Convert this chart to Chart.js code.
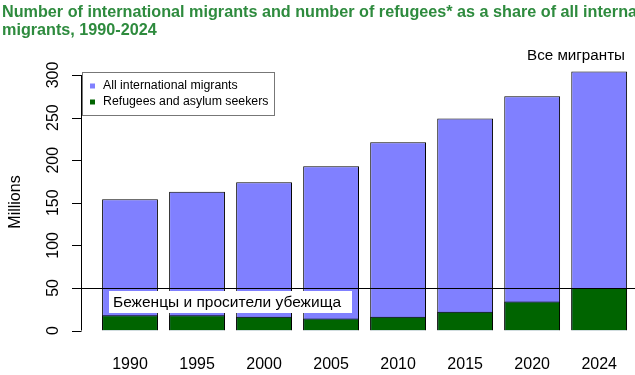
<!DOCTYPE html>
<html>
<head>
<meta charset="utf-8">
<script src="https://cdn.jsdelivr.net/npm/chart.js@4.4.0/dist/chart.umd.min.js"></script>
<style>
  html, body { margin: 0; padding: 0; background: #fff; }
  #wrap { width: 635px; height: 375px; position: relative; }
</style>
</head>
<body>
<div id="wrap"><canvas id="chart" width="635" height="375"></canvas></div>
<script>
const years = ['1990', '1995', '2000', '2005', '2010', '2015', '2020', '2024']
const allMigrants = [154, 163, 174, 193, 221, 249, 275, 304]
const refugees = [18, 18, 16, 14, 16, 22, 34, 50]
const yTicks = [0, 50, 100, 150, 200, 250, 300]

const titleLines = [
  'Number of international migrants and number of refugees* as a share of all international',
  'migrants, 1990-2024'
]
const legendLabels = ['All international migrants', 'Refugees and asylum seekers']
const allLabel = 'Все мигранты'
const refLabel = 'Беженцы и просители убежища'
const refLine = 50

const sans = '"Liberation Sans", Arial, sans-serif'

// axis, titles, legend and the annotations, drawn on top of the bars
const decor = {
  id: 'decor',
  afterDraw(chart) {
    const ctx = chart.ctx
    const y = chart.scales.y
    const axisX = 81.5

    ctx.save()
    // title
    ctx.fillStyle = 'rgb(46,139,62)'
    ctx.font = 'bold 16.2px ' + sans
    ctx.textAlign = 'left'
    ctx.textBaseline = 'alphabetic'
    ctx.fillText(titleLines[0], 2, 17)
    ctx.fillText(titleLines[1], 2, 34.5)

    // y axis
    ctx.strokeStyle = '#000'
    ctx.lineWidth = 1
    ctx.beginPath()
    ctx.moveTo(axisX, y.getPixelForValue(yTicks[0]))
    ctx.lineTo(axisX, y.getPixelForValue(yTicks[yTicks.length - 1]))
    yTicks.forEach(v => {
      const py = Math.round(y.getPixelForValue(v)) + 0.5
      ctx.moveTo(axisX, py)
      ctx.lineTo(72, py)
    })
    ctx.stroke()

    ctx.fillStyle = '#000'
    ctx.font = '16px ' + sans
    ctx.textAlign = 'center'
    ctx.textBaseline = 'middle'
    yTicks.forEach(v => {
      ctx.save()
      ctx.translate(54, y.getPixelForValue(v))
      ctx.rotate(-Math.PI / 2)
      ctx.fillText(String(v), 0, 0)
      ctx.restore()
    })
    ctx.save()
    ctx.translate(16, 202)
    ctx.rotate(-Math.PI / 2)
    ctx.fillText('Millions', 0, 0)
    ctx.restore()

    // refugee line
    const ly = Math.round(y.getPixelForValue(refLine)) + 0.5
    ctx.beginPath()
    ctx.moveTo(axisX, ly)
    ctx.lineTo(635, ly)
    ctx.stroke()

    // label boxes
    ctx.fillStyle = '#fff'
    ctx.fillRect(109, 291, 243, 22)
    ctx.fillStyle = '#000'
    ctx.font = '15.5px ' + sans
    ctx.textAlign = 'left'
    ctx.textBaseline = 'alphabetic'
    ctx.fillText(refLabel, 113, 307)
    ctx.font = '15.2px ' + sans
    ctx.fillText(allLabel, 527, 60)

    // legend
    ctx.fillStyle = '#fff'
    ctx.fillRect(82.5, 72.5, 192, 43)
    ctx.strokeStyle = '#777'
    ctx.strokeRect(82.5, 72.5, 192, 43)
    const ds = chart.data.datasets
    ctx.font = '12.3px ' + sans
    ctx.textBaseline = 'middle'
    legendLabels.forEach((label, i) => {
      const cy = 86 + i * 16
      ctx.fillStyle = ds[i].backgroundColor
      ctx.fillRect(90, cy - 2.5, 5, 5)
      ctx.fillStyle = '#000'
      ctx.fillText(label, 103, cy)
    })
    ctx.restore()
  }
}

new Chart(document.getElementById('chart'), {
  type: 'bar',
  data: {
    labels: years,
    datasets: [
      {
        label: legendLabels[0],
        data: allMigrants,
        backgroundColor: '#8080ff',
        borderColor: '#000',
        borderWidth: 1,
        order: 1
      },
      {
        label: legendLabels[1],
        data: refugees,
        backgroundColor: '#006400',
        borderColor: '#000',
        borderWidth: 1,
        order: 0
      }
    ]
  },
  options: {
    responsive: false,
    animation: false,
    layout: { padding: { top: 64.8, right: 2.3, bottom: 0, left: 0 } },
    datasets: {
      bar: { grouped: false, categoryPercentage: 1, barPercentage: 0.833 }
    },
    plugins: {
      legend: { display: false },
      title: { display: false },
      tooltip: { enabled: false }
    },
    scales: {
      x: {
        grid: { display: false, drawTicks: true, tickLength: 21 },
        border: { display: false },
        ticks: { color: '#000', font: { family: sans, size: 16 }, padding: 3 },
        afterFit(scale) { scale.height = 44.5 }
      },
      y: {
        min: 0,
        max: 312,
        grid: { display: false, drawTicks: false },
        border: { display: false },
        ticks: { display: false, stepSize: 50 },
        afterFit(scale) { scale.width = 96.5 }
      }
    }
  },
  plugins: [decor]
})
</script>
</body>
</html>
